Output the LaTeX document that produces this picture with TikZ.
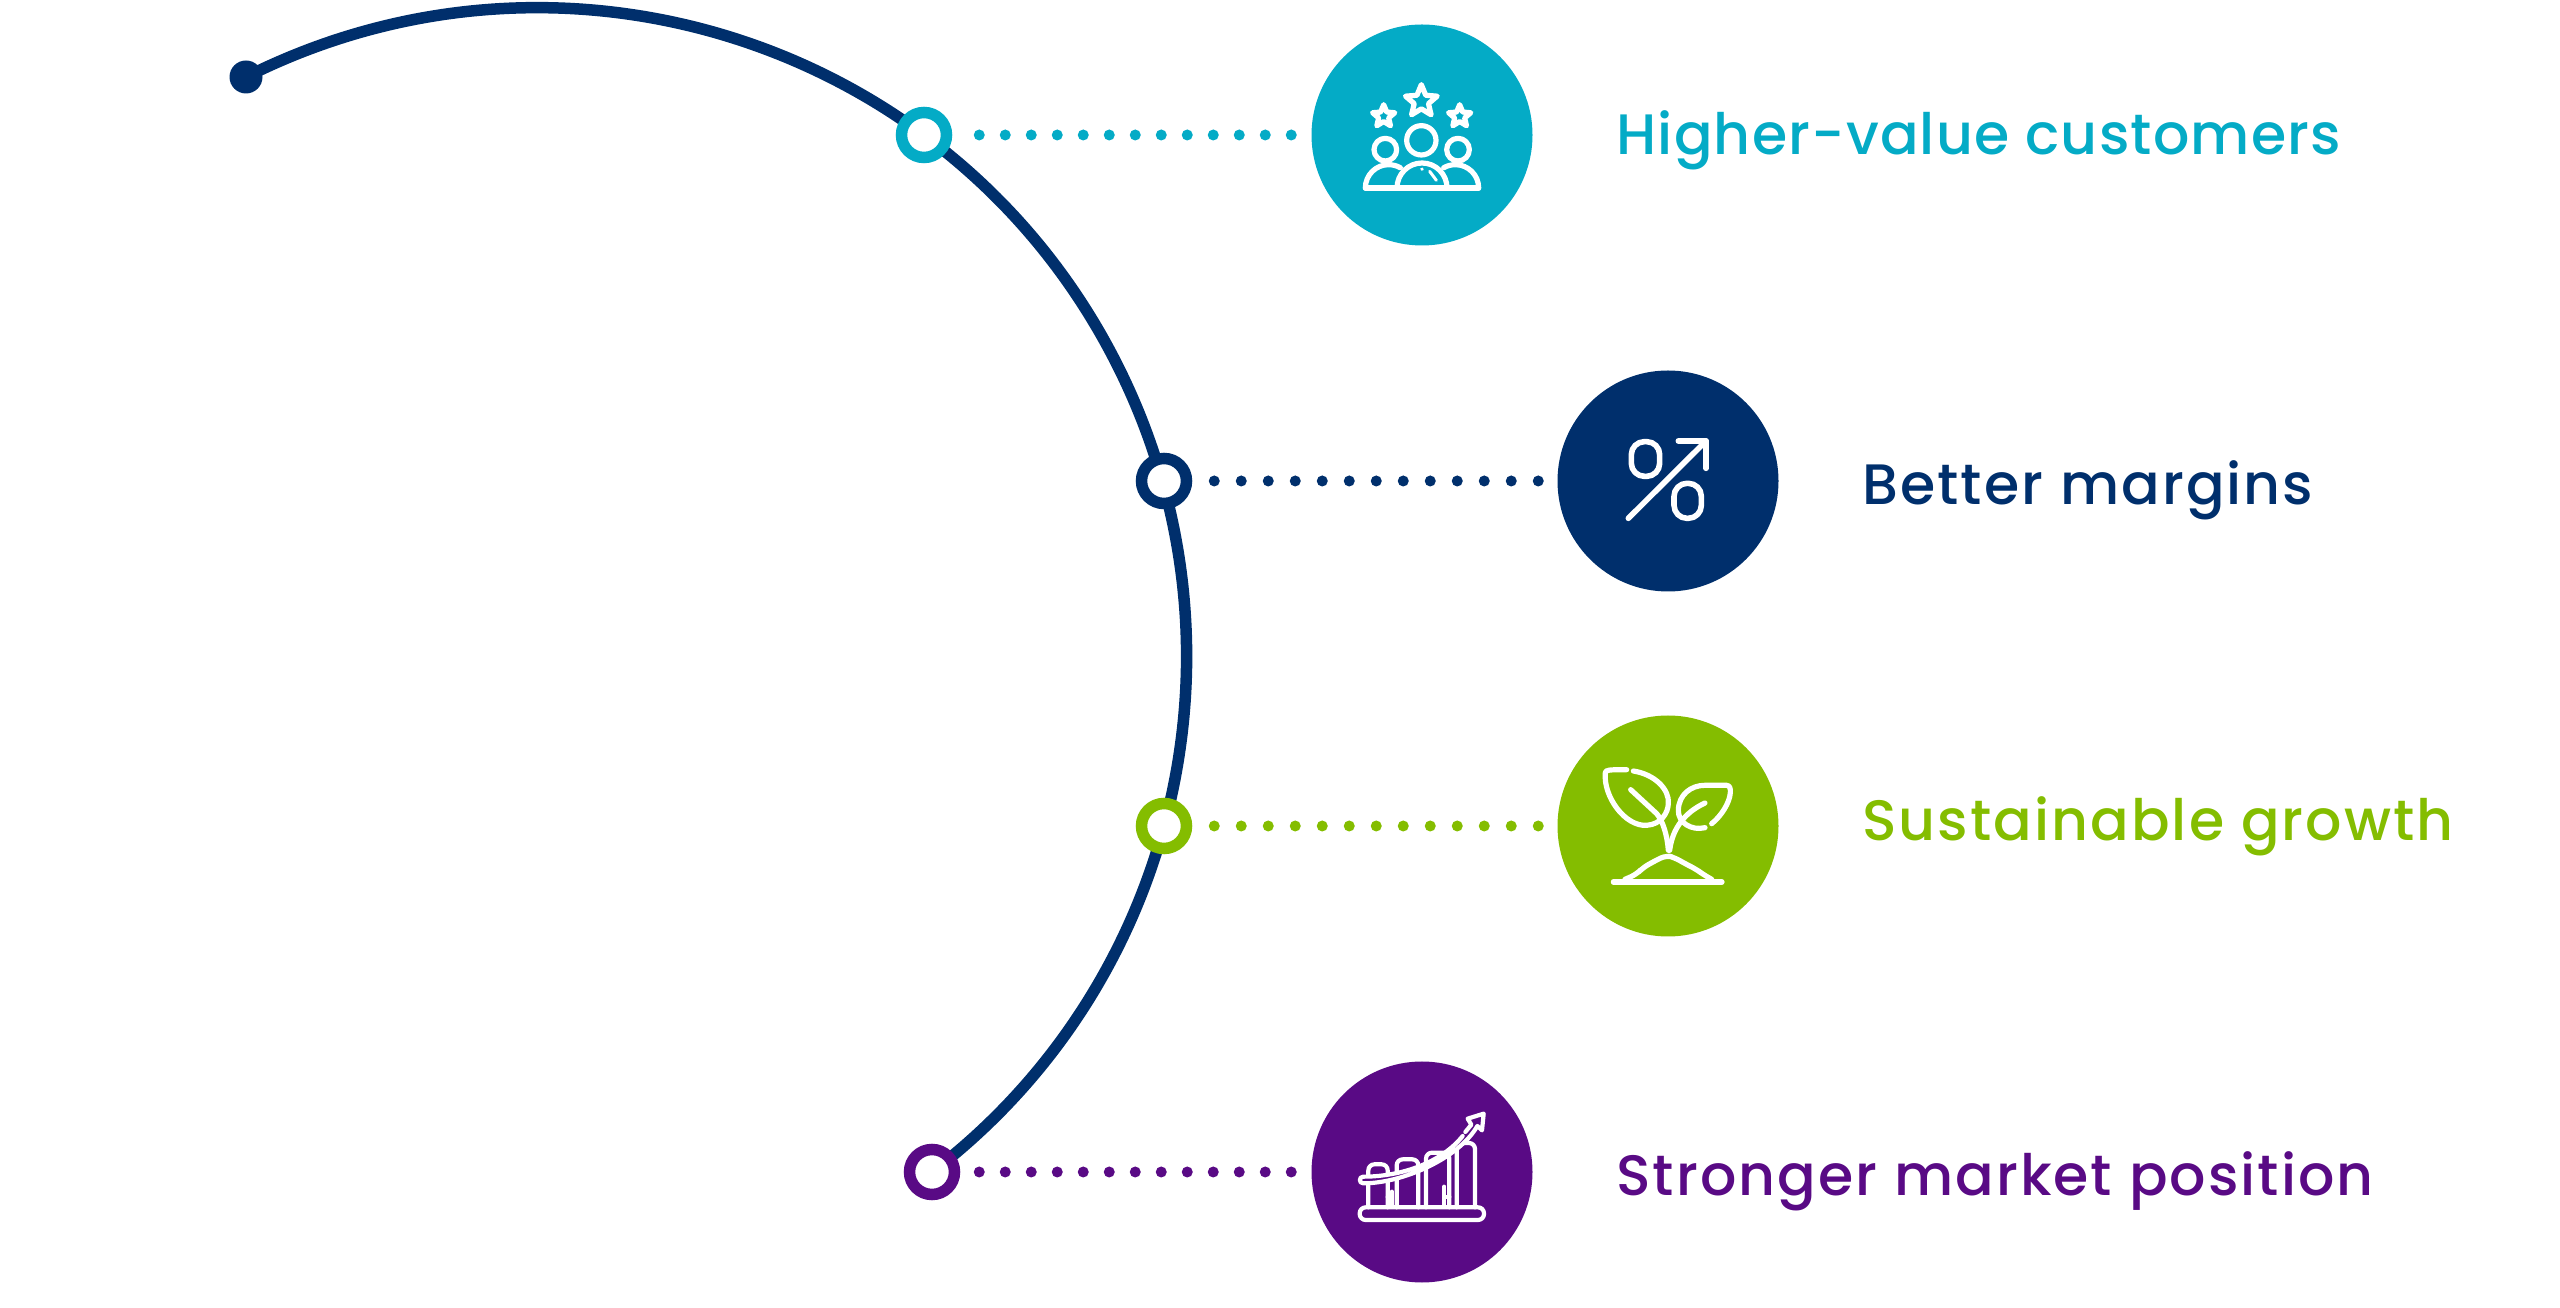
\documentclass[tikz,border=0pt]{standalone}
\usepackage{fontspec}
\newfontfamily\labelfont[LetterSpace=3.6]{Poppins Medium}
\definecolor{tealc}{HTML}{04ABC6}
\definecolor{navyc}{HTML}{002F6C}
\definecolor{greenc}{HTML}{84BD00}
\definecolor{purplec}{HTML}{590A85}
\usetikzlibrary{backgrounds}
\newcommand{\iconstar}[3]{\begin{scope}[shift={(#1,#2)}]
  \draw[iconline] (90:#3) \foreach \a in {90,162,234,306,18}{ -- (\a:#3) -- ({\a+36}:{0.45*#3})} -- cycle;
  \end{scope}}
\begin{document}
\begin{tikzpicture}[x=0.5pt, y=0.5pt,
      disc/.style={circle, inner sep=0pt, minimum size=110.5pt, fill=#1},
      ring/.style={circle, inner sep=0pt, minimum size=22.5pt, line width=5.75pt, draw=#1, fill=white},
      dotline/.style n args={3}{line width=5.5pt, line cap=round, dash pattern=on 0pt off #2pt,
                      shorten <=#3pt, shorten >=9pt, draw=#1},
      rowlabel/.style={anchor=base west, inner sep=0pt, font=\labelfont\fontsize{28.5}{34}\selectfont, text=#1},
      iconline/.style={draw=white, line width=2.6pt, line cap=round, line join=round},
      barline/.style={iconline, line width=2.1pt}]
    \useasboundingbox (0,0) rectangle (2560,1307);
    \node[circle, inner sep=0pt, minimum size=16.5pt, fill=navyc] (start) at (246,1230) {};
    \node[ring=tealc]   (ringa) at (924,1172) {};
    \node[ring=navyc]   (ringb) at (1164,826) {};
    \node[ring=greenc]  (ringc) at (1164,481) {};
    \node[ring=purplec] (ringd) at (932,135)  {};
    \node[disc=tealc]   (discA) at (1422,1172) {};
    \node[disc=navyc]   (discB) at (1668,826)  {};
    \node[disc=greenc]  (discC) at (1668,481)  {};
    \node[disc=purplec] (discD) at (1422,135)  {};
    \begin{scope}[on background layer]
      \draw[navyc, line width=5.75pt] (start.center) arc[start angle=116.7, end angle=-52.6, radius=649];
    \end{scope}
    \draw[dotline={tealc}{13}{13.5}]    (ringa) -- (discA);
    \draw[dotline={navyc}{13.5}{11}]    (ringb) -- (discB);
    \draw[dotline={greenc}{13.5}{11}]   (ringc) -- (discC);
    \draw[dotline={purplec}{13}{9.5}]   (ringd) -- (discD);
    \node[rowlabel=tealc]   (lblA) at (1616,1152) {\addfontfeature{LetterSpace=2.1}Higher-value customers};
    \node[rowlabel=navyc]   (lblB) at (1862,802)  {Better margins};
    \node[rowlabel=greenc]  (lblC) at (1862,466)  {Sustainable growth};
    \node[rowlabel=purplec] (lblD) at (1616,112)  {Stronger market position};
    % customers icon
    \begin{scope}[shift={(discA.center)}, scale=1/3]
      \iconstar{-2}{101}{50}
      \iconstar{-115}{56}{35}
      \iconstar{113}{56}{35}
      \draw[iconline] (-2,-16) circle[radius=44];
      \draw[iconline] (-110,-44) circle[radius=34];
      \draw[iconline] (108,-44) circle[radius=34];
      \draw[iconline] (-170,-159) -- (170,-159);
      \draw[iconline] (-75,-159) arc[start angle=180, end angle=0, radius=75];
      \draw[iconline] (-170,-159) arc[start angle=180, end angle=60, radius=70];
      \draw[iconline] (170,-159) arc[start angle=0, end angle=120, radius=70];
      \draw[iconline, line width=1.5pt] (23,-109) -- (43,-136);
      \draw[iconline, line width=1.5pt] (-1,-102) -- (1,-103);
    \end{scope}
    % margin icon
    \begin{scope}[shift={(discB.center)}, scale=1/3]
      \draw[iconline, line width=2.8pt, rounded corners=6.5pt] (-110,14) rectangle (-25,118);
      \draw[iconline, line width=2.8pt, rounded corners=6.5pt] (18,-112) rectangle (100,-7);
      \draw[iconline, line width=2.8pt] (-119,-112) -- (114,120);
      \draw[iconline, line width=2.8pt] (31,120) -- (114,120) -- (114,38);
    \end{scope}
    % plant icon
    \begin{scope}[shift={(discC.center)}, scale=1/3]
      \draw[iconline] (-164,-168) -- (162,-168);
      \draw[iconline, rounded corners=3pt] (-129,-160) -- (-95,-145) -- (-75,-125) -- (-40,-105)
        -- (-5,-88) -- (20,-95) -- (55,-115) -- (85,-130) -- (105,-145) -- (131,-160);
      \draw[iconline] (-104,165) .. controls (-40,155) and (5,110) .. (1,67)
        .. controls (0,40) and (-20,5) .. (-64,2)
        .. controls (-130,-2) and (-195,90) .. (-188,160)
        .. controls (-187,168) and (-180,169) .. (-124,169);
      \draw[iconline] (-112,109) -- (-34,37) .. controls (-15,15) and (-2,-30) .. (1,-73);
      \draw[iconline] (111,-5) .. controls (70,-15) and (30,10) .. (31,47)
        .. controls (32,95) and (70,122) .. (110,122) -- (176,122)
        .. controls (186,122) and (188,110) .. (187,100)
        .. controls (185,70) and (160,30) .. (131,7);
      \draw[iconline] (111,69) .. controls (70,50) and (15,10) .. (5,-73);
    \end{scope}
    % market icon
    \begin{scope}[shift={(discD.center)}, scale=1/3]
      \draw[barline, rounded corners=3pt] (-187,-144) rectangle (186,-106);
      \foreach \xa/\xb/\ytop in {-161/-103/23, -76/-11/38, 12/82/58, 104/159/87}{
        \draw[barline, rounded corners=3pt] (\xa,-106) -- (\xa,\ytop) -- (\xb,\ytop) -- (\xb,-106);
      }
      % stubs between the bars
      \draw[barline] (-91,-99) -- (-91,-59) (-103,-74) -- (-91,-74);
      \draw[barline] (67,-99) -- (67,-44) (67,-74) -- (82,-74);
      \draw[barline, fill=purplec] (122,108) .. controls (60,30) and (-60,-14) .. (-176,-14)
        .. controls (-190,-14) and (-190,-34) .. (-176,-34)
        .. controls (-60,-34) and (110,40) .. (166,138) -- (180,125) -- (185,175)
        -- (137,160) -- (148,142) -- (130,120);
    \end{scope}
  \end{tikzpicture}
\end{document}
